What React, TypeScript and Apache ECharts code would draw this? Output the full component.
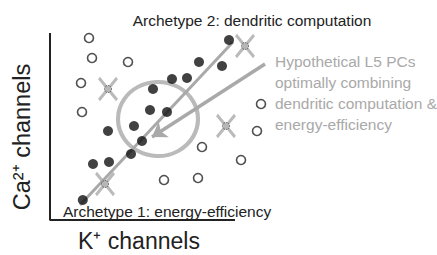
import React, { useEffect, useRef } from "react";
import * as echarts from "echarts";

// Abstract units: K+ channels (x) vs Ca2+ channels (y)
const filledPoints: [number, number][] = [
  [1.64, 1.0], [2.15, 2.8], [2.95, 2.9], [2.9, 4.45], [4.2, 4.7],
  [4.6, 3.95], [4.05, 3.3], [5.0, 5.5], [5.85, 5.4], [5.15, 6.55],
  [6.1, 7.05], [6.85, 7.1], [7.45, 7.9], [8.6, 7.7], [8.95, 9.0],
];
const openPoints: [number, number][] = [
  [1.95, 9.1], [2.1, 8.1], [3.9, 7.9], [1.55, 6.85], [1.6, 5.4],
  [10.55, 5.8], [10.35, 4.45], [7.6, 3.65], [9.55, 3.0], [5.7, 2.0], [7.4, 2.1],
];
const crossedPoints: [number, number][] = [
  [2.9, 6.55], [9.75, 8.7], [8.8, 4.7], [2.75, 1.8],
];
const archetypeLine: [number, number][] = [[1.5, 0.75], [9.15, 8.9]];
const arrowLine: [number, number][] = [[10.75, 7.8], [5.1, 4.15]];
const optimumCenter: [number, number][] = [[5.4, 5.05]];
const axisFrame: [number, number][] = [[0, 9.35], [0, 0], [9.25, 0]];

const titleTop = "Archetype 2: dendritic computation";
const titleBottom = "Archetype 1: energy-efficiency";
const noteLines = [
  "Hypothetical L5 PCs",
  "optimally combining",
  "dendritic computation &",
  "energy-efficiency",
];
const xLabel = "K\u207A channels";
const yLabel = "Ca\u00B2\u207A channels";

const GRAY = "#a9a9a9";
const FONT = "'Liberation Sans', Arial, sans-serif";

export default function App() {
  const ref = useRef<HTMLDivElement>(null);
  useEffect(() => {
    if (!ref.current) return;
    const chart = echarts.init(ref.current, null, { renderer: "svg" });
    chart.setOption({
      animation: false,
      backgroundColor: "#ffffff",
      grid: { left: 50, top: 30, width: 220, height: 190 },
      xAxis: { type: "value", min: 0, max: 11, show: false },
      yAxis: { type: "value", min: 0, max: 9.5, show: false },
      series: [
        {
          type: "line",
          data: axisFrame,
          symbol: "none",
          lineStyle: { color: "#222", width: 2 },
          z: 1,
        },
        {
          type: "line",
          data: archetypeLine,
          symbol: "none",
          lineStyle: { color: GRAY, width: 3 },
          z: 2,
        },
        {
          type: "scatter",
          data: optimumCenter,
          symbol: "circle",
          symbolSize: [80, 74],
          itemStyle: { color: "transparent", borderColor: GRAY, borderWidth: 4 },
          z: 2,
          markLine: {
            silent: true,
            symbol: ["none", "arrow"],
            symbolSize: [14, 14],
            label: { show: false },
            lineStyle: { color: GRAY, width: 3.5, type: "solid" },
            data: [[{ coord: arrowLine[0] }, { coord: arrowLine[1] }]],
          },
        },
        {
          type: "scatter",
          data: filledPoints,
          symbol: "circle",
          symbolSize: 10,
          itemStyle: { color: "#111", borderWidth: 0 },
          z: 3,
        },
        {
          type: "scatter",
          data: openPoints,
          symbol: "circle",
          symbolSize: 9,
          itemStyle: { color: "#fff", borderColor: "#222", borderWidth: 1.6 },
          z: 3,
        },
        {
          type: "scatter",
          data: crossedPoints,
          symbol: "path://M0,0L10,12M10,0L0,12",
          symbolSize: [18, 22],
          itemStyle: { color: "transparent", borderColor: GRAY, borderWidth: 3 },
          z: 4,
        },
        {
          type: "scatter",
          data: crossedPoints,
          symbol: "circle",
          symbolSize: 7,
          itemStyle: { color: "#b5b5b5", borderColor: "#333", borderWidth: 1, borderType: "dotted" },
          z: 5,
        },
      ],
      graphic: [
        {
          type: "text",
          x: 252,
          y: 20,
          style: {
            text: titleTop, fontSize: 15.5, fontFamily: FONT, fill: "#222",
            align: "center", verticalAlign: "middle",
          },
        },
        {
          type: "text",
          x: 63,
          y: 211,
          style: {
            text: titleBottom, fontSize: 15.5, fontFamily: FONT, fill: "#222",
            align: "left", verticalAlign: "middle",
          },
        },
        ...noteLines.map((t, i) => ({
          type: "text",
          x: 275,
          y: 61 + i * 21,
          style: {
            text: t, fontSize: 15.5, fontFamily: FONT, fill: GRAY,
            align: "left", verticalAlign: "middle",
          },
        })),
        {
          type: "text",
          x: 139,
          y: 241,
          style: {
            text: xLabel, fontSize: 23, fontFamily: FONT, fill: "#222",
            align: "center", verticalAlign: "middle",
          },
        },
        {
          type: "text",
          x: 22,
          y: 137,
          rotation: Math.PI / 2,
          style: {
            text: yLabel, fontSize: 23.5, fontFamily: FONT, fill: "#222",
            align: "center", verticalAlign: "middle",
          },
        },
      ],
    });
    return () => chart.dispose();
  }, []);
  return (
    <div
      ref={ref}
      style={{ position: "absolute", left: 0, top: 0, width: 437, height: 255 }}
    />
  );
}
